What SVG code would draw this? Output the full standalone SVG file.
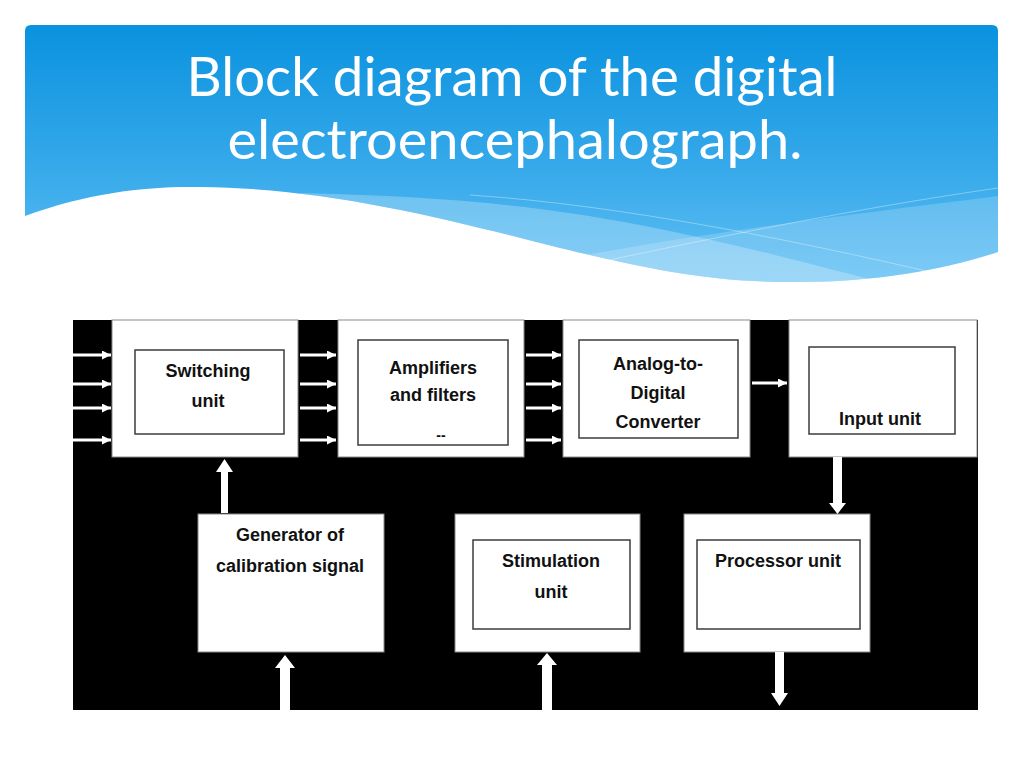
<svg xmlns="http://www.w3.org/2000/svg" width="1024" height="768" viewBox="0 0 1024 768">
<defs>
  <linearGradient id="hdr" x1="0" y1="0" x2="0" y2="1" gradientUnits="objectBoundingBox">
    <stop offset="0" stop-color="#0a92df"/>
    <stop offset="0.55" stop-color="#36a9ea"/>
    <stop offset="1" stop-color="#62c0f4"/>
  </linearGradient>
  <clipPath id="hdrClip">
    <path d="M25,31 Q25,25 31,25 H992 Q998,25 998,31 V252 C950,268 880,282 800,282 C720,283 660,272 560,248 C450,220 330,188 200,187 C150,186 90,192 25,216 Z"/>
  </clipPath>
  <marker id="thin" markerUnits="userSpaceOnUse" markerWidth="10" markerHeight="9" refX="9" refY="4.5" orient="auto">
    <path d="M0,0 L9,4.5 L0,9 Z" fill="#ffffff"/>
  </marker>
  <style>
    .title{font-family:"Lato","Open Sans","Liberation Sans",sans-serif;font-size:55px;fill:#ffffff;text-anchor:middle}
    .outer{fill:#ffffff;stroke:#8a8a8a;stroke-width:1}
    .inner{fill:#ffffff;stroke:#3c3c3c;stroke-width:1.5}
    .lbl{font-family:"Liberation Sans","DejaVu Sans",sans-serif;font-weight:bold;font-size:18px;fill:#111111;text-anchor:middle}
    .thin{stroke:#ffffff;stroke-width:3;fill:none;marker-end:url(#thin)}
    .block{fill:#ffffff;stroke:none}
  </style>
</defs>
<rect x="0" y="0" width="1024" height="768" fill="#ffffff"/>

<g id="header">
  <g clip-path="url(#hdrClip)">
    <rect x="25" y="25" width="973" height="260" fill="url(#hdr)"/>
    <path d="M300,193 C420,196 520,202 640,225 C780,252 900,290 998,310 V330 H250 Z" fill="#ffffff" fill-opacity="0.25"/>
    <path d="M400,300 C560,250 760,226 998,196 V330 H400 Z" fill="#ffffff" fill-opacity="0.18"/>
    <path d="M470,195 C620,205 800,240 998,288" fill="none" stroke="#ffffff" stroke-opacity="0.35" stroke-width="1"/>
    <path d="M600,262 C760,228 880,205 998,188" fill="none" stroke="#ffffff" stroke-opacity="0.35" stroke-width="1"/>
  </g>
  <text class="title" x="512" y="96" textLength="651" lengthAdjust="spacingAndGlyphs">Block diagram of the digital</text>
  <text class="title" x="515" y="159" textLength="575" lengthAdjust="spacingAndGlyphs">electroencephalograph.</text>
</g>

<rect id="panel" x="73" y="320" width="905" height="390" fill="#000000"/>

<g id="switching">
  <rect class="outer" x="112" y="320" width="186" height="137"/>
  <rect class="inner" x="135" y="350" width="149" height="84"/>
  <text class="lbl" x="208" y="377">Switching</text>
  <text class="lbl" x="208" y="407">unit</text>
</g>
<g id="amplifiers">
  <rect class="outer" x="338" y="320" width="186" height="137"/>
  <rect class="inner" x="358" y="340" width="150" height="105"/>
  <text class="lbl" x="433" y="374">Amplifiers</text>
  <text class="lbl" x="433" y="401">and filters</text>
  <text class="lbl" x="441" y="440" style="font-size:14px">--</text>
</g>
<g id="adc">
  <rect class="outer" x="563" y="320" width="187" height="137"/>
  <rect class="inner" x="579" y="340" width="159" height="98"/>
  <text class="lbl" x="658" y="370">Analog-to-</text>
  <text class="lbl" x="658" y="399">Digital</text>
  <text class="lbl" x="658" y="428">Converter</text>
</g>
<g id="input">
  <rect class="outer" x="789" y="320" width="188" height="137"/>
  <rect class="inner" x="809" y="347" width="146" height="87"/>
  <text class="lbl" x="880" y="425">Input unit</text>
</g>
<g id="generator">
  <rect class="outer" x="198" y="514" width="186" height="138"/>
  <text class="lbl" x="290" y="541">Generator of</text>
  <text class="lbl" x="290" y="572">calibration signal</text>
</g>
<g id="stimulation">
  <rect class="outer" x="455" y="514" width="185" height="138"/>
  <rect class="inner" x="473" y="540" width="157" height="89"/>
  <text class="lbl" x="551" y="567">Stimulation</text>
  <text class="lbl" x="551" y="598">unit</text>
</g>
<g id="processor">
  <rect class="outer" x="684" y="514" width="186" height="138"/>
  <rect class="inner" x="697" y="540" width="163" height="89"/>
  <text class="lbl" x="778" y="567">Processor unit</text>
</g>

<g id="connectors">
  <line class="thin" x1="73" y1="355" x2="111" y2="355"/>
  <line class="thin" x1="73" y1="384" x2="111" y2="384"/>
  <line class="thin" x1="73" y1="408" x2="111" y2="408"/>
  <line class="thin" x1="73" y1="440" x2="111" y2="440"/>
  <line class="thin" x1="300" y1="355" x2="336" y2="355"/>
  <line class="thin" x1="300" y1="384" x2="336" y2="384"/>
  <line class="thin" x1="300" y1="408" x2="336" y2="408"/>
  <line class="thin" x1="300" y1="440" x2="336" y2="440"/>
  <line class="thin" x1="526" y1="355" x2="561" y2="355"/>
  <line class="thin" x1="526" y1="384" x2="561" y2="384"/>
  <line class="thin" x1="526" y1="408" x2="561" y2="408"/>
  <line class="thin" x1="526" y1="440" x2="561" y2="440"/>
  <line class="thin" x1="752" y1="383" x2="787" y2="383"/>
  <polygon class="block" points="221,513 221,472 216,472 224.5,459 233,472 228,472 228,513"/>
  <polygon class="block" points="833,457 842,457 842,503 846,503 837.5,514 829,503 833,503"/>
  <polygon class="block" points="280,710 280,668 275,668 285,655 295,668 290,668 290,710"/>
  <polygon class="block" points="542,710 542,665 537,665 547,653 557,665 552,665 552,710"/>
  <polygon class="block" points="775,652 784,652 784,693 788,693 779.5,706 771,693 775,693"/>
</g>
</svg>
